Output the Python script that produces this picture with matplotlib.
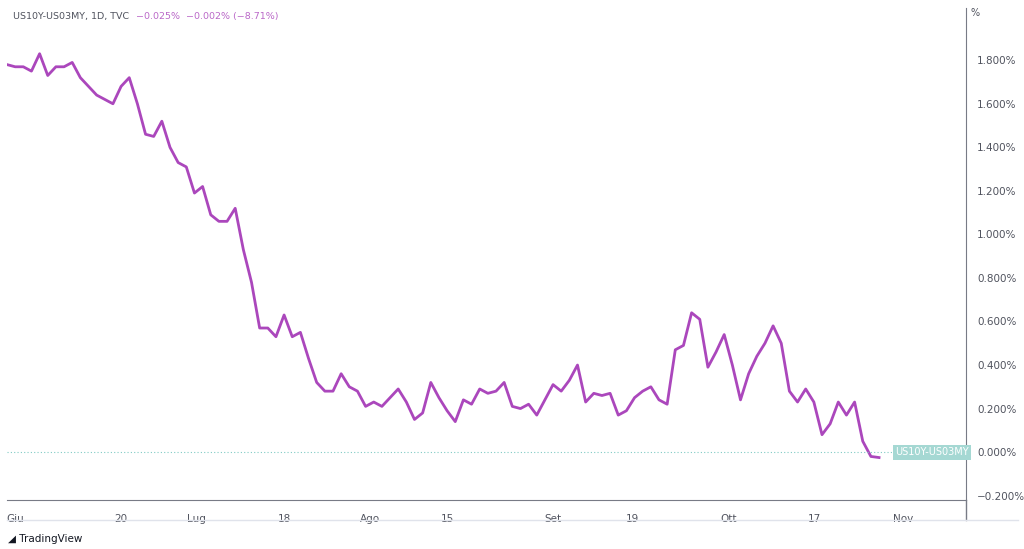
import matplotlib
matplotlib.use("Agg")
import matplotlib.pyplot as plt

values = [1.78,1.77,1.77,1.75,1.83,1.73,1.77,1.77,1.79,1.72,1.68,1.64,1.62,1.60,1.68,1.72,1.60,1.46,1.45,1.52,
          1.40,1.33,1.31,1.19,1.22,1.09,1.06,1.06,1.12,0.93,0.78,0.57,0.57,0.53,0.63,0.53,0.55,0.43,0.32,0.28,
          0.28,0.36,0.30,0.28,0.21,0.23,0.21,0.25,0.29,0.23,0.15,0.18,0.32,0.25,0.19,0.14,0.24,0.22,0.29,0.27,
          0.28,0.32,0.21,0.20,0.22,0.17,0.24,0.31,0.28,0.33,0.40,0.23,0.27,0.26,0.27,0.17,0.19,0.25,0.28,0.30,
          0.24,0.22,0.47,0.49,0.64,0.61,0.39,0.46,0.54,0.40,0.24,0.36,0.44,0.50,0.58,0.50,0.28,0.23,0.29,0.23,
          0.08,0.13,0.23,0.17,0.23,0.05,-0.02,-0.025]
tick_pos = [1, 14, 23.2, 34, 44.5, 54, 67, 76.7, 88.6, 99.1, 110]
tick_labels = ["Giu", "20", "Lug", "18", "Ago", "15", "Set", "19", "Ott", "17", "Nov"]
y_ticks = [-0.2, 0.0, 0.2, 0.4, 0.6, 0.8, 1.0, 1.2, 1.4, 1.6, 1.8]

W, H = 1024, 549
fig = plt.figure(figsize=(W/100, H/100), dpi=100)
L, R, T, B = 7, 966, 8, 500
ax = fig.add_axes([L/W, 1-B/H, (R-L)/W, (B-T)/H])
step = 8.15
x = list(range(len(values)))
ax.plot(x, values, color="#ab47bc", lw=2.0, solid_joinstyle="round")
ax.set_xlim(0, (R-L)/step)
ax.set_ylim(-0.22, 2.04)
ax.axhline(0, color="#80cbc4", lw=0.8, ls=(0, (1, 2)))
for s in ["top", "left"]:
    ax.spines[s].set_visible(False)
ax.spines["right"].set_color("#787b86")
ax.spines["bottom"].set_color("#787b86")
ax.yaxis.tick_right()
ax.set_yticks(y_ticks)
ax.set_yticklabels([f"{v:.3f}%".replace("-", "−") for v in y_ticks])
ax.set_xticks(tick_pos)
ax.set_xticklabels(tick_labels)
ax.tick_params(length=0, labelsize=7.5, colors="#50535e", pad=10)
ax.tick_params(axis="y", pad=8)
ax.text(1.005, 1.0, "%", transform=ax.transAxes, fontsize=7, color="#50535e", va="top")
ax.text(x[-1] + 2, 0, "US10Y-US03MY", fontsize=7, color="white", va="center",
        bbox=dict(boxstyle="square,pad=0.25", fc="#a5d8d3", ec="none"))
fig.text(13/W, 1-17/H, "US10Y-US03MY, 1D, TVC", fontsize=6.8, color="#50535e", va="center")
fig.text(136/W, 1-17/H, "−0.025%  −0.002% (−8.71%)", fontsize=6.8, color="#ba68c8", va="center")
fig.add_artist(plt.Line2D([R/W, R/W], [1-520/H, 1-B/H], color="#787b86", lw=1))
fig.add_artist(plt.Line2D([L/W, 1018/W], [1-520/H, 1-520/H], color="#e0e3eb", lw=1))
fig.text(8/W, 1-539/H, "◢ TradingView", fontsize=7.5, color="#131722", va="center")
fig.savefig("out.png", dpi=100)
